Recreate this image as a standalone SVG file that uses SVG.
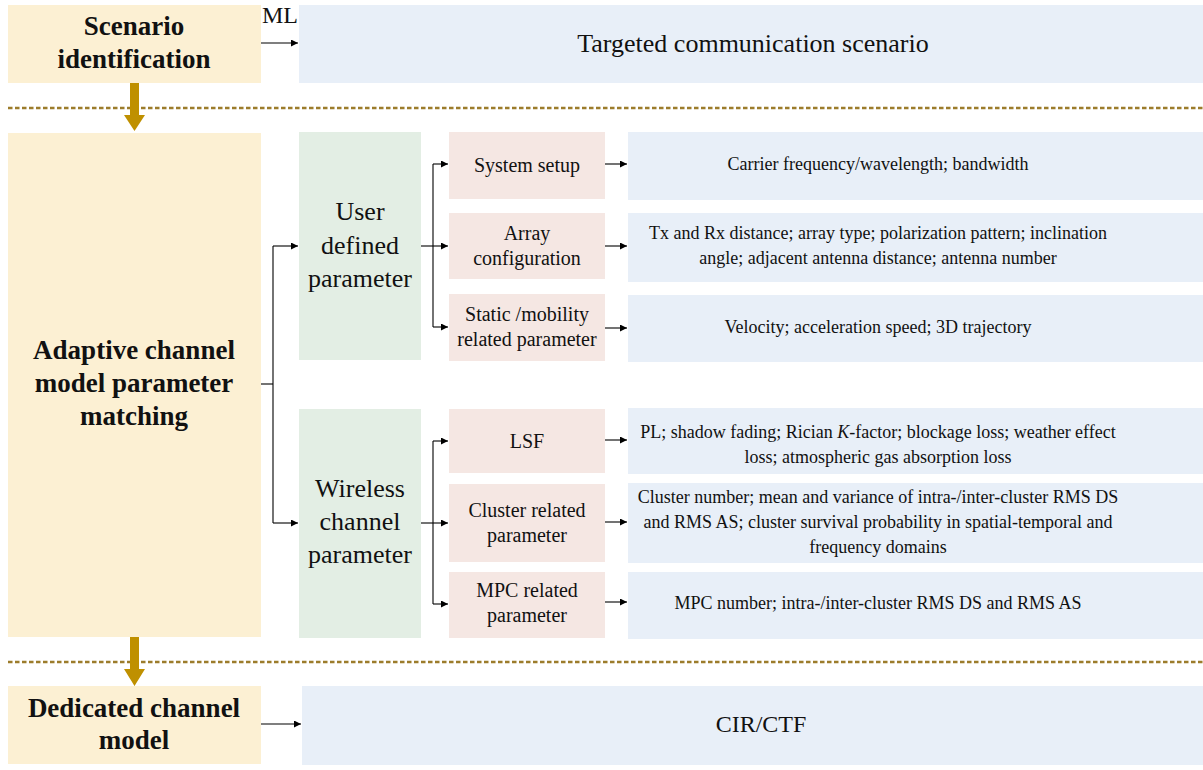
<svg xmlns="http://www.w3.org/2000/svg" width="1203" height="770" viewBox="0 0 1203 770">
<style>
.y{fill:#FCF0D3}.b{fill:#E8EFF8}.g{fill:#E3EEE4}.p{fill:#F5E7E3}
text{font-family:"Liberation Serif","Times New Roman",serif;fill:#111;text-anchor:middle}
.h{font-weight:bold;font-size:27px}
.m{font-size:26px}
.s{font-size:20px}
.t{font-size:18px}
.c{stroke:#000;stroke-width:1.1;fill:none}
.d{stroke:#9C7C2B;stroke-width:2.5;stroke-dasharray:4.5 2.5;fill:none}
.ga{fill:#BF9000}
</style>
<defs>
<marker id="a" viewBox="0 0 10 10" refX="10" refY="5" markerWidth="8" markerHeight="7" markerUnits="userSpaceOnUse" orient="auto">
<path d="M0,0 L10,5 L0,10 z" fill="#000"/>
</marker>
</defs>
<g id="sep">
<line class="d" x1="8" y1="108" x2="1203" y2="108"/>
<line class="d" x1="8" y1="662" x2="1203" y2="662"/>
</g>
<g id="scenario-identification">
<rect class="y" x="8" y="5" width="253" height="78"/>
<text class="h" x="134" y="35">Scenario</text>
<text class="h" x="134" y="68">identification</text>
</g>
<g id="targeted">
<rect class="b" x="299" y="5" width="904" height="78"/>
<text class="m" x="753" y="52">Targeted communication scenario</text>
</g>
<g id="adaptive">
<rect class="y" x="8" y="133" width="253" height="504"/>
<text class="h" x="134" y="359">Adaptive channel</text>
<text class="h" x="134" y="392">model parameter</text>
<text class="h" x="134" y="425">matching</text>
</g>
<g id="user-defined">
<rect class="g" x="299" y="132" width="122" height="228"/>
<text class="m" x="360" y="220">User</text>
<text class="m" x="360" y="254">defined</text>
<text class="m" x="360" y="287">parameter</text>
</g>
<g id="wireless">
<rect class="g" x="299" y="409" width="122" height="229"/>
<text class="m" x="360" y="497">Wireless</text>
<text class="m" x="360" y="530">channel</text>
<text class="m" x="360" y="563">parameter</text>
</g>
<g id="system-setup">
<rect class="p" x="449" y="132" width="156" height="67"/>
<text class="s" x="527" y="172">System setup</text>
</g>
<g id="array-config">
<rect class="p" x="449" y="213" width="156" height="66"/>
<text class="s" x="527" y="240">Array</text>
<text class="s" x="527" y="265">configuration</text>
</g>
<g id="static-mobility">
<rect class="p" x="449" y="294" width="156" height="67"/>
<text class="s" x="527" y="321">Static /mobility</text>
<text class="s" x="527" y="346">related parameter</text>
</g>
<g id="lsf">
<rect class="p" x="449" y="409" width="156" height="64"/>
<text class="s" x="527" y="448">LSF</text>
</g>
<g id="cluster">
<rect class="p" x="449" y="484" width="156" height="78"/>
<text class="s" x="527" y="517">Cluster related</text>
<text class="s" x="527" y="542">parameter</text>
</g>
<g id="mpc">
<rect class="p" x="449" y="572" width="156" height="66"/>
<text class="s" x="527" y="597">MPC related</text>
<text class="s" x="527" y="622">parameter</text>
</g>
<g id="carrier">
<rect class="b" x="628" y="132" width="575" height="68"/>
<text class="t" x="878" y="170">Carrier frequency/wavelength; bandwidth</text>
</g>
<g id="txrx">
<rect class="b" x="628" y="213" width="575" height="69"/>
<text class="t" x="878" y="239">Tx and Rx distance; array type; polarization pattern; inclination</text>
<text class="t" x="878" y="264">angle; adjacent antenna distance; antenna number</text>
</g>
<g id="velocity">
<rect class="b" x="628" y="295" width="575" height="67"/>
<text class="t" x="878" y="333">Velocity; acceleration speed; 3D trajectory</text>
</g>
<g id="pl">
<rect class="b" x="628" y="408" width="575" height="66"/>
<text class="t" x="878" y="438">PL; shadow fading; Rician <tspan font-style="italic">K</tspan>-factor; blockage loss; weather effect</text>
<text class="t" x="878" y="463">loss; atmospheric gas absorption loss</text>
</g>
<g id="cluster-params">
<rect class="b" x="628" y="483" width="575" height="80"/>
<text class="t" x="878" y="503">Cluster number; mean and variance of intra-/inter-cluster RMS DS</text>
<text class="t" x="878" y="528">and RMS AS; cluster survival probability in spatial-temporal and</text>
<text class="t" x="878" y="553">frequency domains</text>
</g>
<g id="mpc-params">
<rect class="b" x="628" y="572" width="575" height="67"/>
<text class="t" x="878" y="609">MPC number; intra-/inter-cluster RMS DS and RMS AS</text>
</g>
<g id="dedicated">
<rect class="y" x="8" y="686" width="253" height="78"/>
<text class="h" x="134" y="717">Dedicated channel</text>
<text class="h" x="134" y="749">model</text>
</g>
<g id="cir">
<rect class="b" x="302" y="686" width="901" height="79"/>
<text x="761" y="732" style="font-size:24px">CIR/CTF</text>
</g>
<g id="connectors">
<text x="280" y="23" style="font-size:24px">ML</text>
<line class="c" x1="261" y1="43" x2="298" y2="43" marker-end="url(#a)"/>
<line class="c" x1="261" y1="724" x2="301" y2="724" marker-end="url(#a)"/>
<line class="c" x1="261" y1="384" x2="273" y2="384"/>
<line class="c" x1="273" y1="246" x2="273" y2="523"/>
<line class="c" x1="273" y1="246" x2="298" y2="246" marker-end="url(#a)"/>
<line class="c" x1="273" y1="523" x2="298" y2="523" marker-end="url(#a)"/>
<line class="c" x1="421" y1="246" x2="433" y2="246"/>
<line class="c" x1="433" y1="164" x2="433" y2="327"/>
<line class="c" x1="433" y1="164" x2="448" y2="164" marker-end="url(#a)"/>
<line class="c" x1="433" y1="246" x2="448" y2="246" marker-end="url(#a)"/>
<line class="c" x1="433" y1="327" x2="448" y2="327" marker-end="url(#a)"/>
<line class="c" x1="421" y1="523" x2="433" y2="523"/>
<line class="c" x1="433" y1="441" x2="433" y2="604"/>
<line class="c" x1="433" y1="441" x2="448" y2="441" marker-end="url(#a)"/>
<line class="c" x1="433" y1="523" x2="448" y2="523" marker-end="url(#a)"/>
<line class="c" x1="433" y1="604" x2="448" y2="604" marker-end="url(#a)"/>
<line class="c" x1="605" y1="164" x2="627" y2="164" marker-end="url(#a)"/>
<line class="c" x1="605" y1="246" x2="627" y2="246" marker-end="url(#a)"/>
<line class="c" x1="605" y1="328" x2="627" y2="328" marker-end="url(#a)"/>
<line class="c" x1="605" y1="440" x2="627" y2="440" marker-end="url(#a)"/>
<line class="c" x1="605" y1="522" x2="627" y2="522" marker-end="url(#a)"/>
<line class="c" x1="605" y1="602" x2="627" y2="602" marker-end="url(#a)"/>
<path class="ga" d="M130,83 L139,83 L139,115 L145,115 L134.5,131 L124,115 L130,115 z"/>
<path class="ga" d="M130,637 L139,637 L139,669 L145,669 L134.5,686 L124,669 L130,669 z"/>
</g>
</svg>
